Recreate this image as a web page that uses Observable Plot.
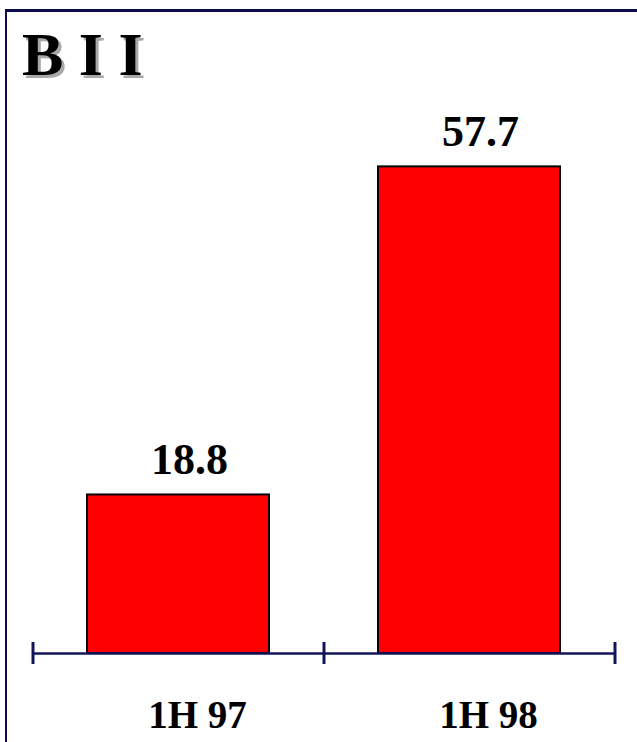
<!DOCTYPE html>
<html>
<head>
<meta charset="utf-8">
<script src="https://cdn.jsdelivr.net/npm/d3@7"></script>
<script src="https://cdn.jsdelivr.net/npm/@observablehq/plot@0.6"></script>
<style>
  html, body { margin: 0; padding: 0; background: #fff; overflow: hidden; }
  #wrap { position: relative; width: 637px; height: 742px; overflow: hidden; }
  #frame { position: absolute; left: 5px; top: 9px; right: -20px; bottom: -20px;
           border-left: 2.5px solid #0b0b50; border-top: 3px solid #0b0b50; }
  #title { position: absolute; left: 22px; top: 23px; margin: 0;
           font-family: "Liberation Serif", "Times New Roman", serif; font-weight: bold;
           font-size: 62px; line-height: 1; color: #000;
           text-shadow: 3px 3px 0 #a8a8a8; white-space: pre; }
  #chart { position: absolute; left: 0; top: 0; }
</style>
</head>
<body>
<div id="wrap">
  <div id="frame"></div>
  <div id="chart"></div>
  <div id="title">B I I</div>
</div>
<script>
const categories = ["1H 97", "1H 98"];
const values = [18.8, 57.7];
const valueLabels = ["18.8", "57.7"];

const data = categories.map((c, i) => ({category: c, value: values[i], label: valueLabels[i]}));

const W = 637, H = 742, ML = 32, MR = 23, MT = 147, MB = 89;
const step = (W - ML - MR) / categories.length;
const navy = "#14145a";

const chart = Plot.plot({
  width: W,
  height: H,
  marginLeft: ML,
  marginRight: MR,
  marginTop: MT,
  marginBottom: MB,
  style: {fontFamily: "'Liberation Serif', 'Times New Roman', serif", background: "transparent", overflow: "visible"},
  x: {domain: categories, paddingInner: 0.375, paddingOuter: 0.1875, axis: null},
  y: {domain: [0, 60], axis: null},
  marks: [
    Plot.barY(data, {x: "category", y: "value", fill: "#ff0000", stroke: "#000", strokeWidth: 2}),
    Plot.ruleY([0], {stroke: navy, strokeWidth: 2.5}),
    Plot.ruleX(categories, {x: d => d, y1: 0, y2: 0, dx: -step / 2, insetTop: -11, insetBottom: -11, stroke: navy, strokeWidth: 3}),
    Plot.ruleX([categories[categories.length - 1]], {x: d => d, y1: 0, y2: 0, dx: step / 2, insetTop: -11, insetBottom: -11, stroke: navy, strokeWidth: 3}),
    Plot.text(data, {x: "category", y: "value", text: "label", dy: -21, dx: 11, lineAnchor: "bottom", fontSize: 44, fontWeight: "bold", fill: "#000"}),
    Plot.text(categories, {x: d => d, text: d => d, frameAnchor: "bottom", dy: 74, dx: 19, lineAnchor: "bottom", fontSize: 39, fontWeight: "bold", fill: "#000"})
  ]
});
document.getElementById("chart").appendChild(chart);
</script>
</body>
</html>
